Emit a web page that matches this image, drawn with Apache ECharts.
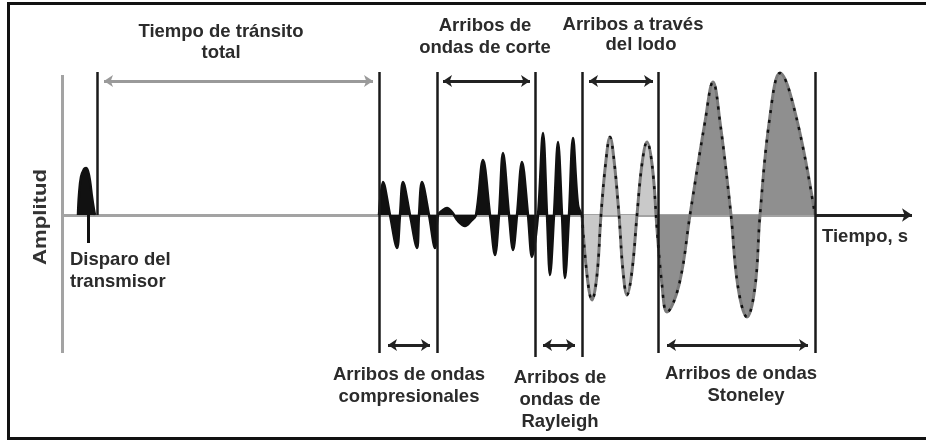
<!DOCTYPE html>
<html>
<head>
<meta charset="utf-8">
<script src="https://cdn.jsdelivr.net/npm/echarts@6/dist/echarts.min.js"></script>
<style>
  html, body { margin: 0; background: #fff; }
  #chart { width: 926px; height: 442px; }
</style>
</head>
<body>
<div id="chart"></div>
<script>
// time runs 0..850 along the baseline, amplitude -150..150
const pulse = [[16, 0], [17, 20], [19, 38], [22, 46], [24, 47], [26, 44], [28, 34], [30, 18], [32, 5], [33, 0]];

// compresionales + corte + Rayleigh, drawn in black
const bodyWaves = [
  [317, 0], [321, 33], [328, 0], [335, -33], [338, 0], [341, 33], [348, 0], [355, -33],
  [357, 0], [360, 33], [367, 0], [373, -33], [376, 0],
  [381, 5], [385, 7], [390, 3], [396, -6], [403, -11], [409, -6], [414, 0],
  [421, 55], [428, 0], [433, -40], [437, 0], [441, 62], [447, 0], [451, -35], [455, 0],
  [460, 53], [466, 0], [470, -42], [476, 0],
  [481, 82], [485, 0], [488, -60], [492, 0], [496, 73], [500, 0], [503, -63], [507, 0],
  [511, 77], [516, 10], [520, 0]
];
const mudWaves = [
  [520, 0], [525, -60], [530, -85], [535, -60], [539, 0], [544, 55], [548, 78], [552, 55],
  [557, 0], [561, -56], [565, -80], [570, -56], [575, 0], [580, 51], [585, 73], [590, 51], [594, 0]
];
const stoneleyWaves = [
  [594, 0], [600, -70], [605, -97], [617, -70], [628, 0], [643, 93], [651, 133], [658, 93],
  [669, 0], [676, -72], [685, -102], [693, -72], [698, 0], [708, 99], [718, 142], [734, 99], [753, 0]
];

const markerTimes = [35, 317, 375, 473, 520, 596, 753];
const markerLows = [0, -138, -138, -142, -142, -138, -138];

const spanFrom = [42, 381, 527, 326, 481, 605];
const spanTo = [311, 468, 591, 368, 513, 746];
const spanSide = ['top', 'top', 'top', 'bottom', 'bottom', 'bottom'];

const AXIS_END = 850;
const TOP = 143;
const ARROW_TOP = 134;
const ARROW_BOTTOM = -130;

const chart = echarts.init(document.getElementById('chart'));

const FONT = 'bold 18.5px "Liberation Sans", Arial, sans-serif';
const INK = '#2b2b2b';

const text = (x, y, str, align, lh) => ({
  type: 'text',
  x: x,
  y: y,
  z: 50,
  style: {
    text: str,
    font: FONT,
    fill: INK,
    align: align,
    textAlign: align,
    verticalAlign: 'top',
    textVerticalAlign: 'top',
    lineHeight: lh || 22,
  },
});

const option = {
  animation: false,
  grid: {left: 62, right: 14, top: 65, bottom: 77},
  xAxis: {type: 'value', min: 0, max: AXIS_END, show: false},
  yAxis: {type: 'value', min: -150, max: 150, show: false},
  graphic: [
    {
      type: 'rect',
      shape: {x: 8.5, y: 3.5, width: 940, height: 435},
      style: {fill: 'none', stroke: '#111', lineWidth: 3},
      z: 40,
    },
    text(221, 21, 'Tiempo de tránsito\ntotal', 'center', 21),
    text(485, 15, 'Arribos de\nondas de corte', 'center', 22),
    text(633, 15, 'Arribos a través', 'center', 20),
    text(641, 35, 'del lodo', 'center', 20),
    text(70, 249, 'Disparo del\ntransmisor', 'left', 22),
    text(822, 226, 'Tiempo, s', 'left', 22),
    text(409, 364, 'Arribos de ondas\ncompresionales', 'center', 22),
    text(560, 367, 'Arribos de\nondas de\nRayleigh', 'center', 22),
    text(741, 363, 'Arribos de ondas', 'center', 22),
    text(746, 385, 'Stoneley', 'center', 22),
    {
      type: 'text',
      x: 41,
      y: 217,
      rotation: Math.PI / 2,
      scaleX: 1.2,
      z: 50,
      style: {
        text: 'Amplitud',
        font: FONT,
        fill: '#333',
        align: 'center',
        textAlign: 'center',
        verticalAlign: 'middle',
        textVerticalAlign: 'middle',
      },
    },
  ],
  series: [
    // amplitude axis and time baseline
    {
      type: 'lines',
      coordinateSystem: 'cartesian2d',
      z: 1,
      symbol: 'none',
      lineStyle: {color: '#a3a3a3', width: 3, opacity: 1},
      data: [
        {coords: [[0, 140], [0, -138]]},
        {coords: [[0, 0], [markerTimes[6], 0]]},
      ],
    },
    {
      type: 'lines',
      coordinateSystem: 'cartesian2d',
      z: 1,
      symbol: ['none', 'arrow'],
      symbolSize: 10,
      lineStyle: {color: '#222', width: 3, opacity: 1},
      data: [{coords: [[markerTimes[6], 0], [AXIS_END, 0]]}],
    },
    // disparo del transmisor
    {
      type: 'line',
      z: 3,
      data: pulse,
      smooth: 0.4,
      showSymbol: false,
      lineStyle: {color: '#111', width: 2.5},
      areaStyle: {color: '#111', opacity: 1},
    },
    {
      type: 'lines',
      coordinateSystem: 'cartesian2d',
      z: 3,
      symbol: 'none',
      lineStyle: {color: '#111', width: 3, opacity: 1},
      data: [{coords: [[26, 0], [26, -28]]}],
    },
    // black arrivals
    {
      type: 'line',
      z: 3,
      data: bodyWaves,
      smooth: 0.35,
      showSymbol: false,
      lineStyle: {color: '#111', width: 2.5},
      areaStyle: {color: '#111', opacity: 1},
    },
    // mud + Stoneley: gray outline, dotted dark stroke on top
    {
      type: 'line',
      z: 3,
      data: mudWaves,
      smooth: 0.4,
      showSymbol: false,
      lineStyle: {color: '#7a7a7a', width: 3},
      areaStyle: {color: '#c9c9c9', opacity: 1},
    },
    {
      type: 'line',
      z: 3,
      data: stoneleyWaves,
      smooth: 0.4,
      showSymbol: false,
      lineStyle: {color: '#7a7a7a', width: 3},
      areaStyle: {color: '#8f8f8f', opacity: 1},
    },
    {
      type: 'line',
      z: 4,
      data: mudWaves,
      smooth: 0.4,
      showSymbol: false,
      lineStyle: {color: '#111', width: 2.5, type: [3, 7]},
    },
    {
      type: 'line',
      z: 4,
      data: stoneleyWaves,
      smooth: 0.4,
      showSymbol: false,
      lineStyle: {color: '#111', width: 2.5, type: [3, 7]},
    },
    // vertical arrival markers
    {
      type: 'lines',
      coordinateSystem: 'cartesian2d',
      z: 5,
      symbol: 'none',
      lineStyle: {color: '#1a1a1a', width: 2.5, opacity: 1},
      data: markerTimes.map((t, i) => ({coords: [[t, TOP], [t, markerLows[i]]]})),
    },
    // interval arrows
    {
      type: 'lines',
      coordinateSystem: 'cartesian2d',
      z: 5,
      symbol: ['arrow', 'arrow'],
      symbolSize: 9,
      lineStyle: {color: '#222', width: 3, opacity: 1},
      data: spanFrom.map((from, i) => {
        const y = spanSide[i] === 'top' ? ARROW_TOP : ARROW_BOTTOM;
        const item = {coords: [[from, y], [spanTo[i], y]]};
        if (i === 0) item.lineStyle = {color: '#9a9a9a'};
        return item;
      }),
    },
  ],
};

chart.setOption(option);
</script>
</body>
</html>
